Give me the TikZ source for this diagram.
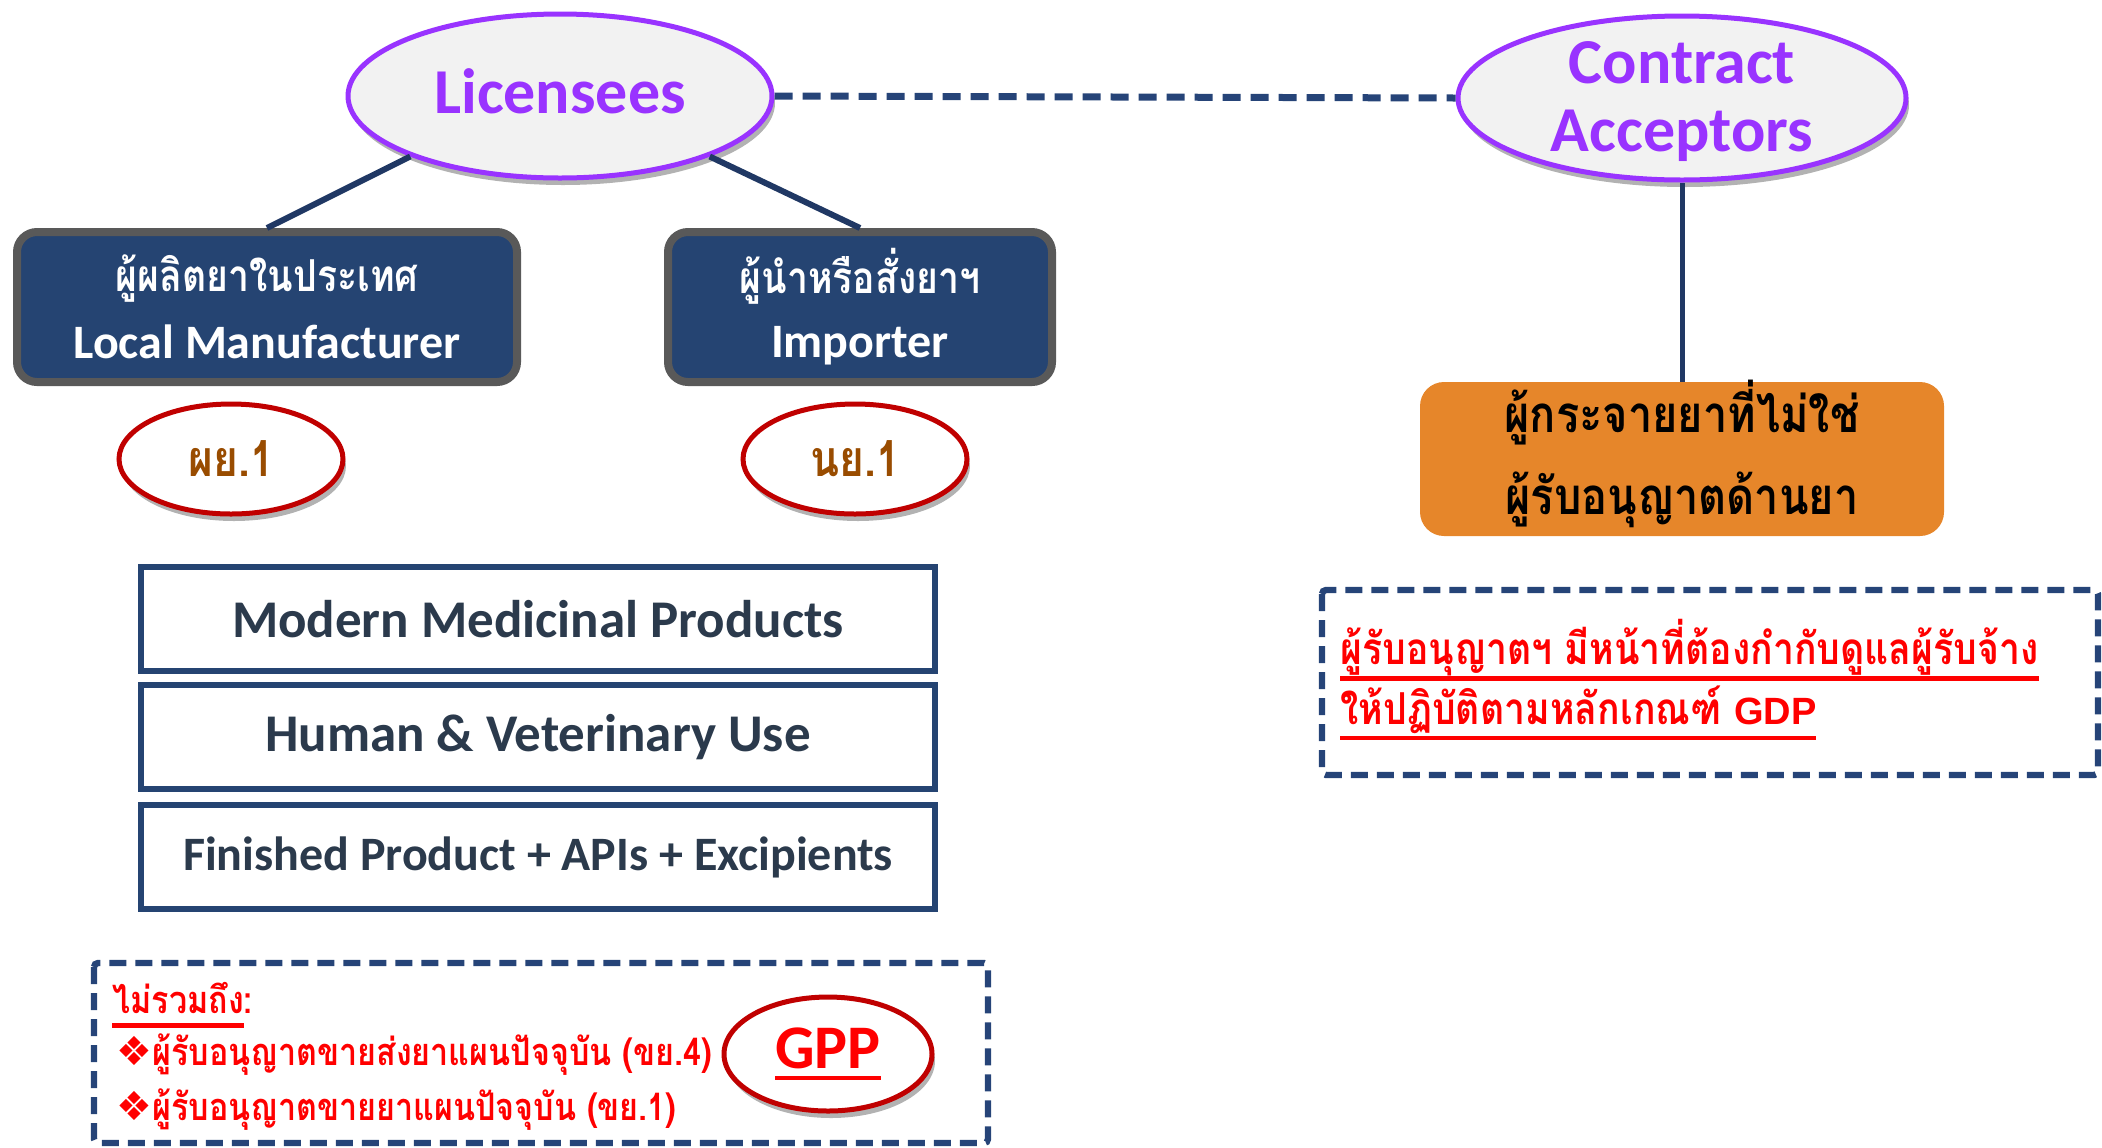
\documentclass[tikz,border=0pt]{standalone}
\usepackage{fontspec}
\setmainfont{Carlito}
\newfontfamily\thai[Script=Thai,FakeStretch=0.85]{Loma}
\newfontfamily\symf{DejaVu Sans}
\newfontfamily\arialf{Liberation Sans}
\usetikzlibrary{shapes.geometric,shadows}
\definecolor{navy}{HTML}{254472}
\definecolor{linenavy}{HTML}{203864}
\definecolor{dashnavy}{HTML}{264478}
\definecolor{boxgray}{HTML}{595959}
\definecolor{purp}{HTML}{9933FF}
\definecolor{lightg}{HTML}{F2F2F2}
\definecolor{darkred}{HTML}{C00000}
\definecolor{brownt}{HTML}{994C00}
\definecolor{orangeb}{HTML}{E6862A}
\definecolor{slate}{HTML}{2B3A4C}
\newcommand\myul[2][6pt]{\setbox0=\hbox{#2}\rlap{\rule[-#1]{\wd0}{2.2pt}}\box0}
\begin{document}
\begin{tikzpicture}[x=0.5pt,y=-0.5pt,
  shad/.style={drop shadow={shadow xshift=1.5pt,shadow yshift=-3.5pt,opacity=0.3,fill=black}},
  topoval/.style={ellipse,draw=purp,line width=2.5pt,fill=lightg,shad,inner sep=0pt},
  toptext/.style={text=purp,font=\bfseries\fontsize{32}{34}\selectfont,align=center,inner sep=0pt},
  darkbox/.style={rectangle,rounded corners=10pt,draw=boxgray,line width=4pt,fill=navy,
    text=white,align=center,inner sep=0pt,minimum height=75pt},
  redoval/.style={ellipse,draw=darkred,line width=2.5pt,fill=white,shad,inner sep=0pt},
  scopebox/.style={rectangle,draw=navy,line width=3pt,minimum width=397pt,minimum height=52pt,
    text=slate,font=\bfseries\fontsize{26.5}{28}\selectfont,inner sep=0pt},
  dashbox/.style={draw=dashnavy,line width=3.2pt,dash pattern=on 8.5pt off 4.5pt,rounded corners=2pt},
  tree/.style={draw=linenavy,line width=3pt},
  redtext/.style={text=red,anchor=west,inner sep=0pt}
]
\useasboundingbox (0,0) rectangle (2102,1147);

% top ovals
\node[topoval,minimum width=212pt,minimum height=82pt] (lic) at (560,96) {};
\node[toptext] (lict) at (560,91) {Licensees};
\node[topoval,minimum width=224pt,minimum height=82pt] (ca) at (1682,98) {};
\node[toptext] (cat) at (1682,102) {Contract\\Acceptors};
\draw[dashnavy,line width=3.5pt,dash pattern=on 9pt off 5pt] (lic.east) -- (ca.west);

% licensee boxes
\node[darkbox,minimum width=250pt] (lm) at (267,307)
  {{\thai\bfseries\fontsize{22}{24}\selectfont ผู้ผลิตยาในประเทศ}\\[10pt]
   {\bfseries\fontsize{24}{26}\selectfont Local Manufacturer}};
\node[darkbox,minimum width=192pt] (imp) at (860,307)
  {{\thai\bfseries\fontsize{22}{24}\selectfont ผู้นำหรือสั่งยาฯ}\\[10pt]
   {\bfseries\fontsize{24}{26}\selectfont Importer}};
\draw[tree] (lic.202) -- (lm.north);
\draw[tree] (lic.338) -- (imp.north);

% license ovals
\node[redoval,minimum width=112pt,minimum height=55pt,text=brownt,
  font=\thai\bfseries\fontsize{25}{27}\selectfont] (py) at (231,459) {ผย.1};
\node[redoval,minimum width=112pt,minimum height=55pt,text=brownt,
  font=\thai\bfseries\fontsize{25}{27}\selectfont] (ny) at (855,459) {นย.1};

% contract acceptor branch
\node[rectangle,rounded corners=12pt,fill=orangeb,minimum width=262pt,minimum height=77pt,
  inner sep=0pt] (dist) at (1682,459) {};
\node[align=center,inner sep=0pt,font=\thai\bfseries\fontsize{25.5}{41}\selectfont] (distt) at (1682,454)
  {ผู้กระจายยาที่ไม่ใช่\\ผู้รับอนุญาตด้านยา};
\draw[linenavy,line width=2.5pt] (ca.south) -- (dist.north);

% right dashed box
\draw[dashbox] (1322,590) rectangle (2098,775);
\node[redtext,font=\thai\bfseries\fontsize{22}{24}\selectfont] (r1) at (1340,650)
  {\myul[8pt]{ผู้รับอนุญาตฯ มีหน้าที่ต้องกำกับดูแลผู้รับจ้าง}};
\node[redtext,font=\thai\bfseries\fontsize{22}{24}\selectfont] (r2) at (1340,713)
  {\myul[8pt]{ให้ปฏิบัติตามหลักเกณฑ์ {\arialf\bfseries\fontsize{19}{21}\selectfont GDP}}};

% product scope boxes
\node[scopebox] (s1) at (538,619) {Modern Medicinal Products};
\node[scopebox] (s2) at (538,737) {Human \& Veterinary Use};
\node[scopebox,font=\bfseries\fontsize{24}{26}\selectfont] (s3) at (538,857) {Finished Product + APIs + Excipients};

% bottom dashed box
\draw[dashbox] (94,963) rectangle (988,1143);
\node[redtext,font=\thai\bfseries\fontsize{19}{21}\selectfont] (b0) at (112,1005)
  {\myul[7pt]{ไม่รวมถึง}:};
\node[redtext,font=\thai\bfseries\fontsize{19}{21}\selectfont] (b1) at (116,1055)
  {{\symf\fontsize{20}{22}\selectfont ❖}ผู้รับอนุญาตขายส่งยาแผนปัจจุบัน (ขย.4)};
\node[redtext,font=\thai\bfseries\fontsize{19}{21}\selectfont] (b2) at (116,1110)
  {{\symf\fontsize{20}{22}\selectfont ❖}ผู้รับอนุญาตขายยาแผนปัจจุบัน (ขย.1)};
\node[redoval,minimum width=104pt,minimum height=57pt,text=red,
  font=\bfseries\fontsize{31}{33}\selectfont] (gpp) at (828,1054) {\myul[6pt]{GPP}};
\end{tikzpicture}
\end{document}
